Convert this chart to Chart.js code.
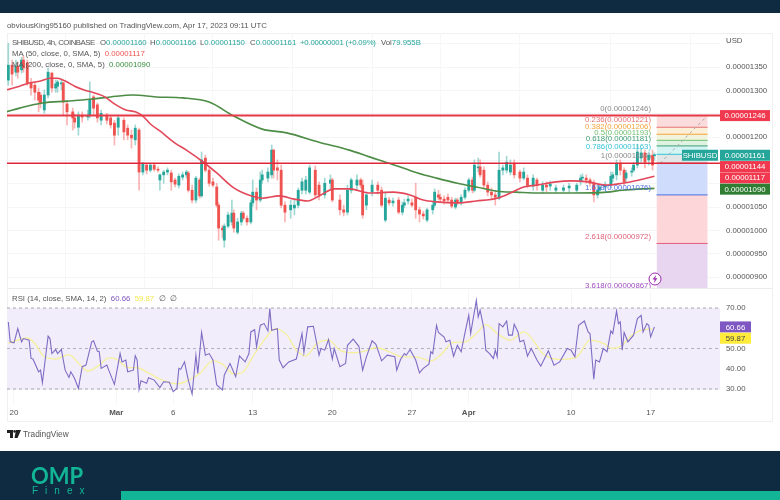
<!DOCTYPE html>
<html>
<head>
<meta charset="utf-8">
<script src="https://cdn.jsdelivr.net/npm/chart.js@4/dist/chart.umd.js"></script>
<style>
  html, body { margin: 0; padding: 0; background: #fff; }
  body { width: 780px; height: 500px; overflow: hidden; font-family: "Liberation Sans", sans-serif; color: #555; font-size: 7.8px; }
  #page { position: relative; width: 780px; height: 500px; overflow: hidden; filter: blur(0.3px); }
  .abs { position: absolute; white-space: nowrap; line-height: 10px; }
  canvas { position: absolute; display: block; }
  .up { color: #26a69a; }
</style>
</head>
<body>
<div id="page">
  <div class="abs" style="left:0;top:0;width:780px;height:13px;background:#0e2b41"></div>
  <div class="abs" style="left:7px;top:33px;width:766px;height:389px;border:1px solid #f0f0f0;box-sizing:border-box"></div>
  <div class="abs" style="left:7px;top:288px;width:766px;height:1px;background:#ececec"></div>

  <canvas id="priceChart" width="766" height="255" style="left:7px;top:33px"></canvas>
  <canvas id="rsiChart" width="766" height="132" style="left:7px;top:290px"></canvas>

  <div class="abs" style="left:7px;top:21px;font-size:7.8px">obviousKing95160 published on TradingView.com, Apr 17, 2023 09:11 UTC</div>
  <div class="abs" style="left:12px;top:38px;letter-spacing:-0.45px">SHIBUSD, 4h, COINBASE</div>
  <div class="abs" style="left:100px;top:38px">O<span class="up">0.00001160</span></div>
  <div class="abs" style="left:150px;top:38px">H<span class="up">0.00001166</span></div>
  <div class="abs" style="left:200px;top:38px">L<span class="up">0.00001150</span></div>
  <div class="abs" style="left:250px;top:38px">C<span class="up">0.00001161</span></div>
  <div class="abs up" style="left:300px;top:38px;letter-spacing:-0.2px">+0.00000001 (+0.09%)</div>
  <div class="abs" style="left:381px;top:38px">Vol<span class="up">79.955B</span></div>
  <div class="abs" style="left:12px;top:49px">MA (50, close, 0, SMA, 5)&nbsp; <span style="color:#ef5350">0.00001117</span></div>
  <div class="abs" style="left:12px;top:60px">MA (200, close, 0, SMA, 5)&nbsp; <span style="color:#388e3c">0.00001090</span></div>
  <div class="abs" style="left:726px;top:36px">USD</div>
  <div class="abs" style="left:12px;top:294px">RSI (14, close, SMA, 14, 2)&nbsp; <span style="color:#7e57c2">60.66</span>&nbsp; <span style="color:#f2e84b">59.87</span>&nbsp; ∅&nbsp; ∅</div>

  <svg class="abs" style="left:648px;top:272px" width="14" height="14" viewBox="0 0 14 14">
    <circle cx="7" cy="7" r="6" fill="#fff" stroke="#9c27b0" stroke-width="1"/>
    <path d="M8.2 2.8 L4.6 7.6 H6.8 L5.8 11.2 L9.4 6.2 H7.2 Z" fill="#9c27b0"/>
  </svg>

  <svg class="abs" style="left:7px;top:430px" width="14" height="8" viewBox="0 0 14 8">
    <path d="M0 0 H6 V8 H3 V3 H0 Z M9 0 H14 L10.5 8 H7.5 Z" fill="#222"/>
    <circle cx="7.6" cy="1.4" r="1.3" fill="#222"/>
  </svg>
  <div class="abs" style="left:23px;top:429px;font-size:8.3px;color:#555">TradingView</div>

  <div class="abs" style="left:0;top:451px;width:780px;height:49px;background:#0e2b41"></div>
  <div class="abs" style="left:121px;top:491px;width:659px;height:9px;background:#12b595"></div>
  <div class="abs" style="left:31px;top:464px;font:bold 22px/24px Lato,'Liberation Sans',sans-serif;color:#12b595">OMP</div>
  <div class="abs" style="left:32px;top:486px;font-size:10px;letter-spacing:7px;color:#12b595">Finex</div>
</div>

<script>
// prices are in units of 0.00000001, x values are 4h bars counted from Feb 20
const candleBars = [-3,-1,1,2,4,5,7,9,11,13,14,16,18,20,22,23,25,26,28,31,32,34,36,39,40,42,44,46,49,51,53,55,58,60,62,64,66,68,70,72,74,76,77,79,81,83,85,87,89,91,92,94,96,98,99,101,103,105,107,108,110,111,113,115,116,118,120,121,123,125,126,128,130,131,134,136,137,139,141,143,146,148,150,152,154,156,159,161,164,167,168,172,174,176,178,181,183,184,186,189,192,194,196,198,200,203,205,206,208,210,212,214,216,218,221,222,224,225,227,229,231,233,234,236,238,240,242,243,245,246,248,250,252,254,256,258,260,262,264,267,269,271,274,276,279,281,283,286,290,293,297,299,300,302,304,306,308,309,312,315,316,318,320,322,323,326,327,329,331,333,335,337,338];
const opens = [1322,1354,1339,1352,1344,1365,1359,1316,1311,1296,1290,1258,1290,1337,1305,1309,1314,1316,1271,1254,1241,1221,1247,1243,1247,1286,1269,1236,1247,1241,1230,1221,1236,1219,1204,1194,1215,1125,1140,1129,1140,1131,1108,1119,1125,1123,1108,1097,1114,1119,1123,1086,1065,1108,1074,1155,1129,1104,1093,1054,1005,979,1009,1018,1037,996,1018,1037,1026,1018,1059,1082,1065,1108,1112,1119,1172,1134,1129,1054,1044,1048,1054,1086,1086,1082,1129,1097,1076,1101,1108,1065,1044,1039,1086,1097,1108,1097,1054,1082,1097,1086,1022,1065,1059,1065,1039,1054,1063,1059,1071,1044,1035,1022,1044,1054,1076,1071,1067,1071,1065,1050,1065,1059,1071,1086,1108,1086,1134,1136,1129,1097,1082,1076,1069,1129,1129,1125,1144,1125,1112,1112,1095,1108,1086,1097,1095,1086,1086,1091,1086,1104,1112,1112,1108,1101,1076,1086,1093,1097,1112,1119,1144,1129,1112,1125,1129,1140,1155,1166,1151,1161,1160];
const closes = [1354,1335,1352,1339,1365,1348,1316,1305,1296,1279,1273,1290,1339,1305,1314,1318,1316,1275,1254,1241,1232,1247,1243,1247,1279,1262,1241,1251,1236,1226,1204,1241,1211,1204,1198,1219,1125,1144,1129,1140,1131,1129,1119,1125,1129,1104,1099,1116,1119,1125,1086,1065,1112,1074,1151,1129,1101,1097,1054,1005,1001,1009,1033,1037,1005,1018,1037,1026,1018,1059,1082,1065,1108,1119,1125,1172,1129,1129,1054,1039,1054,1054,1086,1104,1108,1134,1076,1076,1101,1108,1065,1044,1039,1086,1108,1108,1097,1033,1076,1097,1086,1054,1069,1059,1063,1039,1054,1059,1067,1054,1044,1035,1031,1044,1054,1082,1071,1067,1063,1065,1052,1065,1059,1071,1086,1108,1086,1140,1136,1119,1097,1082,1076,1071,1129,1134,1146,1140,1119,1112,1125,1097,1112,1097,1097,1093,1099,1091,1091,1095,1097,1112,1114,1108,1101,1076,1086,1093,1097,1116,1119,1144,1129,1104,1123,1127,1140,1168,1166,1146,1161,1140,1161];
const highs = [1401,1365,1365,1361,1371,1374,1365,1326,1318,1305,1296,1301,1348,1339,1322,1322,1322,1318,1275,1262,1249,1254,1254,1258,1318,1290,1273,1258,1251,1245,1236,1245,1241,1226,1215,1226,1219,1146,1144,1144,1144,1136,1121,1129,1134,1129,1112,1121,1125,1129,1127,1097,1116,1112,1168,1161,1134,1112,1101,1059,1011,1014,1039,1065,1044,1026,1041,1041,1031,1065,1108,1091,1125,1129,1134,1183,1174,1151,1140,1061,1065,1065,1091,1112,1116,1140,1138,1104,1112,1119,1112,1076,1054,1097,1112,1119,1112,1108,1082,1108,1104,1093,1082,1071,1069,1071,1061,1067,1074,1067,1101,1050,1041,1048,1061,1089,1086,1078,1074,1078,1071,1069,1069,1076,1091,1112,1114,1151,1155,1151,1136,1104,1091,1086,1168,1140,1159,1151,1151,1129,1134,1119,1119,1112,1104,1104,1106,1097,1097,1101,1101,1119,1121,1119,1112,1108,1095,1099,1104,1125,1125,1151,1151,1134,1129,1134,1146,1183,1176,1172,1168,1172,1166];
const lows = [1311,1311,1331,1326,1337,1339,1311,1290,1279,1254,1262,1251,1284,1296,1296,1296,1301,1247,1226,1215,1219,1204,1232,1236,1241,1247,1232,1226,1228,1219,1183,1204,1194,1194,1176,1183,1086,1119,1121,1125,1127,1125,1086,1101,1119,1086,1093,1091,1108,1112,1082,1059,1059,1069,1071,1125,1095,1093,1050,979,984,964,1005,1011,996,992,1011,1022,1011,1014,1052,1044,1061,1101,1104,1112,1112,1108,1048,1018,1026,1033,1048,1078,1078,1078,1069,1065,1069,1086,1061,1033,1031,1033,1080,1086,1091,1026,1044,1074,1078,1050,1018,1054,1052,1035,1033,1048,1056,1050,1026,1018,1024,1018,1035,1050,1065,1061,1056,1059,1048,1046,1054,1054,1067,1082,1080,1082,1125,1114,1091,1074,1065,1054,1065,1119,1123,1119,1112,1104,1108,1091,1086,1086,1080,1082,1086,1082,1082,1082,1082,1097,1104,1101,1095,1061,1069,1080,1086,1091,1104,1108,1119,1097,1104,1116,1125,1134,1146,1134,1140,1129,1150];

const ma50Bars = [-4,3,8,14,19,23,27,32,37,43,48,53,59,64,68,72,77,85,91,100,107,116,125,131,140,148,155,162,169,177,188,200,209,216,223,234,244,255,262,269,276,286,294,303,312,321,330,338];
const ma50Values = [1301,1309,1316,1320,1326,1326,1320,1309,1301,1294,1286,1271,1258,1254,1245,1228,1213,1187,1172,1146,1123,1091,1074,1069,1074,1067,1063,1076,1089,1089,1080,1082,1076,1065,1061,1059,1063,1069,1080,1093,1097,1104,1106,1104,1097,1101,1108,1116];
const ma200Bars = [-4,3,15,28,40,51,63,75,89,103,116,131,144,161,177,188,198,213,223,234,244,255,265,278,295,313,321,338];
const ma200Values = [1254,1262,1273,1277,1281,1286,1290,1286,1284,1275,1245,1217,1209,1189,1172,1157,1144,1123,1112,1101,1093,1084,1082,1080,1080,1082,1086,1090];

const rsiBars = [-3,-2,0,2,4,5,8,9,10,13,14,15,18,19,20,22,23,25,27,29,30,32,34,36,38,41,42,44,45,46,49,50,53,56,57,59,60,63,64,65,66,67,70,71,74,77,79,82,84,86,87,88,90,92,94,96,97,99,101,103,105,107,110,111,114,117,119,122,124,125,127,128,130,132,134,135,136,139,140,142,145,149,152,153,155,158,161,162,164,166,168,169,172,175,176,179,182,184,186,189,191,194,197,201,202,204,206,207,209,212,214,216,219,220,221,223,224,227,228,230,232,234,236,238,240,241,244,245,246,248,249,251,253,254,255,256,258,260,261,263,264,266,267,269,271,273,276,278,280,282,285,288,292,294,296,298,301,303,304,306,307,309,311,313,315,316,318,319,320,321,322,324,327,329,331,332,334,335,336,338];
const rsiValues = [63.1,53.3,52.8,59.8,53.3,54.9,54.1,45.1,44.8,38.5,39.3,33.1,56.1,54.9,47.5,49.5,47.5,49.5,39.3,35.7,38.5,35.2,30.3,41,41.8,53.3,53.8,48.7,48.4,40.2,41.8,39.3,32.3,47.5,43.4,44.3,38.5,39.3,46.4,44.3,29.8,34.1,32.8,35.6,34.4,30.7,33.6,33.3,28.7,30.3,40.2,39.7,43.4,34.4,27.5,46.7,37.7,57.9,46.7,47.5,44.3,32,29.5,36.9,42.6,36.1,46.4,43.4,47.5,58.2,59.3,50.8,61.5,62.3,58.7,69.7,59,59.8,44.3,40.5,43.4,44.8,57.4,48,60.7,61,46.7,50,49.2,54.4,44.8,50,41,42.6,51.6,54.6,51.1,39.3,45.9,53.8,52.1,43.9,46.7,45.9,39.3,44.6,47.5,46.7,49.5,44.3,38,40.2,42.3,48.4,47.5,61.5,57.9,55.7,53.3,54.1,46.2,51.6,48.4,57.7,66.4,57.4,73.8,65.6,68.9,59.8,49.2,47.5,45.1,49.2,45.9,62.3,60.7,63.6,56.6,56.6,62,58.2,53.3,54.1,46.2,50,44.3,41.3,45.1,48.9,41.8,43.4,50,49.2,45.9,61.5,63.6,58.2,57.4,34.8,44.3,43.4,50,48.4,58.7,57.4,68.5,62.3,63.1,49.2,57.9,53.3,56.6,64.8,66.4,58.2,62.3,61.5,55.7,60.66];
const rsiMaBars = [-3,7,11,16,22,29,35,39,45,50,54,60,65,72,79,86,93,98,105,110,116,121,126,132,138,144,149,154,160,166,172,179,186,191,198,205,212,220,225,232,238,244,249,255,262,269,274,279,288,297,304,311,316,321,325,330,337];
const rsiMaValues = [52.5,55.2,52.5,45.9,44.8,47,41.8,38.9,41.8,45.4,44.8,40.7,40.5,37.4,34.1,32.5,34.8,37.7,43.9,42.3,37.4,38.5,45.9,54.1,59.8,56.6,49.2,46.4,52.5,54.1,49.2,47.9,48.9,50.5,48.4,45.9,45.9,43.9,46.7,53,53.3,57.4,61.8,57.4,54.1,58.2,54.1,47.5,44.6,45.9,54.1,52.5,50,51.6,55.7,58.7,59.87];

const fibLevels = [1246,1221,1206,1193,1181,1163,1144,1076,972,867];
const fibRatios = ["0","0.236","0.382","0.5","0.618","0.786","1","1.618","2.618","3.618"];
const fibColors = ["#8a8a8a","#e57373","#f2a43a","#6fbf73","#3f9e74","#33c3d6","#8a8a8a","#4a6fe0","#e0607a","#a04dc0"];
const fibFills = ["#fbdcdc","#fdeed8","#f1f4dc","#dff3e3","#d4f4f3","#e3e6e7","#cfdcfb","#fdd6da","#e8d5f0"];
const fibStartBar = 339.1;
const fibEndBar = 366.1;
const hLineLevels = [1246,1144];
const trendBars = [341,366];
const trendValues = [1144,1246];

const priceTicks = [900,950,1000,1050,1100,1150,1200,1250,1300,1350,1400];
const priceLabelled = [900,950,1000,1050,1200,1300,1350];
const rsiTicks = [30,40,50,60,70];
const rsiLabelled = [30,40,50,70];
const rsiGuides = [70,50,30];
const timeBars = [0,54,84,126,168,210,240,294,336];
const timeLabels = ["20","Mar","6","13","20","27","Apr","10","17"];

// last value tags on the price axis
const priceTagValues = [1246,1161,1144,1117,1090];
const priceTagLabels = ["0.00001246","0.00001161","0.00001144","0.00001117","0.00001090"];
const priceTagColors = ["#f0394f","#26a69a","#f0394f","#f0394f","#2e7d32"];
const rsiTagValues = [60.66,59.87];
const rsiTagColors = ["#7e57c2","#ffeb3b"];
const rsiTagText = ["#fff","#444"];

const UP = "#26a69a";
const DOWN = "#ef5350";
const AXIS_W = 53;
const xMin = -3.69;
const xMax = 372.6;
const FONT = "'Liberation Sans', sans-serif";

function line(data, color, width, order, extra) {
  return Object.assign({
    type: "line", data: data, borderColor: color, borderWidth: width,
    pointRadius: 0, tension: 0, order: order, fill: false,
  }, extra || {});
}

function pairs(xs, ys) {
  return xs.map((x, i) => ({ x: x, y: ys[i] }));
}

function ends(y) {
  return [{ x: xMin, y: y }, { x: xMax, y: y }];
}

function noPadding(s) {
  s.paddingTop = 0;
  s.paddingBottom = 0;
  s.paddingLeft = 0;
  s.paddingRight = 0;
}

function xScale(showLabels) {
  return {
    type: "linear", min: xMin, max: xMax, offset: false,
    border: { display: false },
    grid: { color: "#f7f7f8", drawTicks: false },
    afterBuildTicks: (s) => { s.ticks = timeBars.map((v) => ({ value: v })); },
    afterFit: (s) => { s.height = showLabels ? 17 : 0; noPadding(s); },
    ticks: {
      display: showLabels, autoSkip: false, maxRotation: 0, padding: 3, color: "#555",
      font: (c) => {
        const label = c.tick ? timeLabels[timeBars.indexOf(c.tick.value)] : "";
        return { family: FONT, size: 8, weight: label === "Mar" || label === "Apr" ? "bold" : "normal" };
      },
      callback: (v) => timeLabels[timeBars.indexOf(v)],
    },
  };
}

function yScale(min, max, ticks, labelled, fmt) {
  return {
    position: "right", min: min, max: max,
    border: { display: false },
    grid: { color: "#f5f5f7", drawTicks: false },
    afterBuildTicks: (s) => { s.ticks = ticks.map((v) => ({ value: v })); },
    afterFit: (s) => { s.width = AXIS_W; noPadding(s); },
    ticks: {
      autoSkip: false, padding: 6, color: "#555", font: { family: FONT, size: 7.8 },
      callback: (v) => (labelled.includes(v) ? fmt(v) : ""),
    },
  };
}

function drawTag(ctx, x, y, w, h, bg, fg, text) {
  ctx.fillStyle = bg;
  ctx.fillRect(x, y - h / 2, w, h);
  ctx.fillStyle = fg;
  ctx.font = "7.8px " + FONT;
  ctx.textAlign = "center";
  ctx.textBaseline = "middle";
  ctx.fillText(text, x + w / 2, y + 0.5);
}

const priceLabels = {
  id: "priceLabels",
  afterDraw(chart) {
    const { ctx, scales, chartArea } = chart;
    ctx.save();
    ctx.font = "7.8px " + FONT;
    ctx.textAlign = "right";
    ctx.textBaseline = "middle";
    fibLevels.forEach((lvl, i) => {
      const v = (lvl / 1e8).toFixed(8);
      ctx.fillStyle = fibColors[i];
      ctx.fillText(fibRatios[i] + "(" + v + ")", 644, scales.y.getPixelForValue(lvl) - 7);
    });
    let prev = -100;
    priceTagValues.forEach((val, i) => {
      const y = Math.max(scales.y.getPixelForValue(val), prev + 11.3);
      prev = y;
      drawTag(ctx, chartArea.right, y, 50, 11, priceTagColors[i], "#fff", priceTagLabels[i]);
      if (val === 1161) drawTag(ctx, chartArea.right - 38, y, 36, 11, UP, "#fff", "SHIBUSD");
    });
    ctx.restore();
  },
};

const rsiLabels = {
  id: "rsiLabels",
  afterDraw(chart) {
    const { ctx, scales, chartArea } = chart;
    ctx.save();
    let prev = -100;
    rsiTagValues.forEach((val, i) => {
      const y = Math.max(scales.y.getPixelForValue(val), prev + 11.3);
      prev = y;
      drawTag(ctx, chartArea.right, y, 31, 11, rsiTagColors[i], rsiTagText[i], val.toFixed(2));
    });
    ctx.restore();
  },
};

const candleColors = closes.map((c, i) => (c >= opens[i] ? UP : DOWN));
const wickColors = candleColors.map((c) => c + "70");

const fibBands = fibFills.map((fill, i) =>
  line(
    [{ x: fibStartBar, y: fibLevels[i + 1] }, { x: fibEndBar, y: fibLevels[i + 1] }],
    fibColors[i + 1], 1, 20,
    { fill: { value: fibLevels[i] }, backgroundColor: fill }
  )
);

new Chart(document.getElementById("priceChart"), {
  type: "bar",
  data: {
    datasets: [
      ...fibBands,
      { label: "wicks", order: 8, data: candleBars.map((x, i) => ({ x: x, y: [lows[i], highs[i]] })), backgroundColor: wickColors, barThickness: 1, grouped: false },
      { label: "bodies", order: 7, data: candleBars.map((x, i) => ({ x: x, y: [opens[i], closes[i]] })), backgroundColor: candleColors, barThickness: 2.2, grouped: false, minBarLength: 1 },
      line(pairs(ma200Bars, ma200Values), "#4c8c45", 1.6, 5, { cubicInterpolationMode: "monotone" }),
      line(pairs(ma50Bars, ma50Values), "#e2485a", 1.6, 4, { cubicInterpolationMode: "monotone" }),
      line(pairs(trendBars, trendValues), "#a8a8a8", 1, 3, { borderDash: [3, 3] }),
      line(ends(hLineLevels[0]), "#e63946", 2, 2),
      line(ends(hLineLevels[1]), "#e0263a", 1.6, 2),
    ],
  },
  options: {
    responsive: false, animation: false, events: [],
    layout: { padding: 0 },
    plugins: { legend: { display: false }, tooltip: { enabled: false } },
    scales: {
      x: xScale(false),
      y: yScale(876.5, 1423, priceTicks, priceLabelled, (v) => (v / 1e8).toFixed(8)),
    },
  },
  plugins: [priceLabels],
});

new Chart(document.getElementById("rsiChart"), {
  type: "line",
  data: {
    datasets: [
      line(ends(rsiGuides[0]), "#a9a9a9", 1, 9, { borderDash: [3, 3], fill: { value: rsiGuides[2] }, backgroundColor: "#f1edfa" }),
      line(ends(rsiGuides[1]), "#b4b0bc", 1, 8, { borderDash: [3, 3] }),
      line(ends(rsiGuides[2]), "#a9a9a9", 1, 8, { borderDash: [3, 3] }),
      line(pairs(rsiMaBars, rsiMaValues), "#f6f09c", 1.3, 3, { cubicInterpolationMode: "monotone" }),
      line(pairs(rsiBars, rsiValues), "#7e6cc4", 1.1, 2),
    ],
  },
  options: {
    responsive: false, animation: false, events: [],
    layout: { padding: 0 },
    plugins: { legend: { display: false }, tooltip: { enabled: false } },
    scales: {
      x: xScale(true),
      y: yScale(22.1, 78.9, rsiTicks, rsiLabelled, (v) => v.toFixed(2)),
    },
  },
  plugins: [rsiLabels],
});
</script>
</body>
</html>
